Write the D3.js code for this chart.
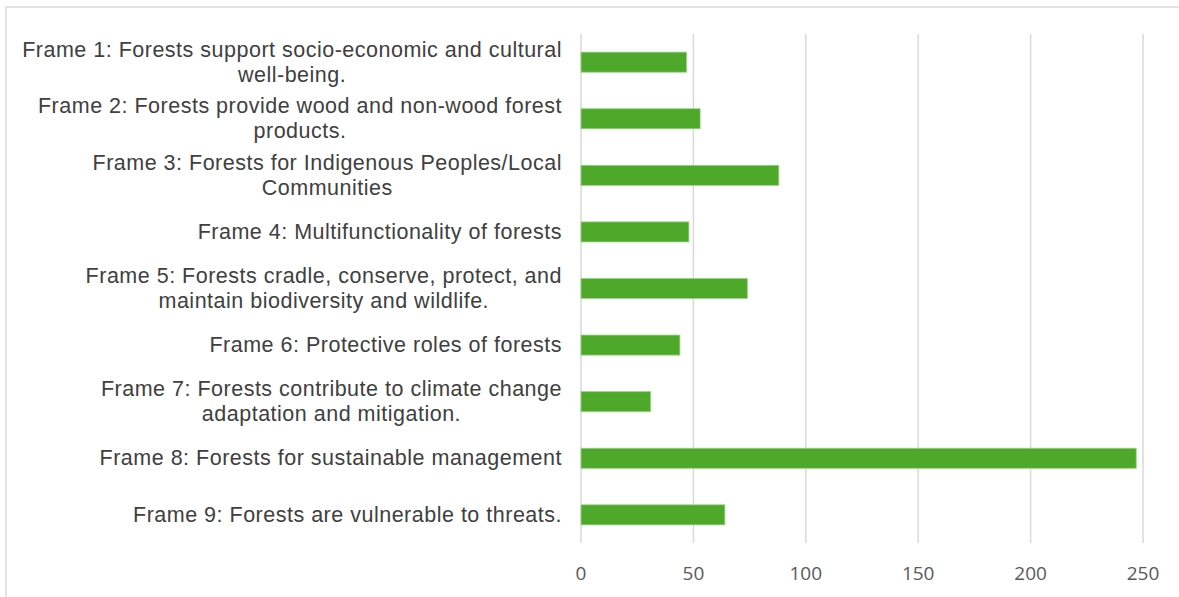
<!DOCTYPE html>
<html>
<head>
<meta charset="utf-8">
<script src="https://cdn.jsdelivr.net/npm/d3@7"></script>
<style>
  body { margin: 0; background: #fff; }
  svg { display: block; }
</style>
</head>
<body>
<div id="chart"></div>
<script>
const frames = [
  ['Frame 1: Forests support socio-economic and cultural', 'well-being.'],
  ['Frame 2: Forests provide wood and non-wood forest', 'products.'],
  ['Frame 3: Forests for Indigenous Peoples/Local', 'Communities'],
  ['Frame 4: Multifunctionality of forests'],
  ['Frame 5: Forests cradle, conserve, protect, and', 'maintain biodiversity and wildlife.'],
  ['Frame 6: Protective roles of forests'],
  ['Frame 7: Forests contribute to climate change', 'adaptation and mitigation.'],
  ['Frame 8: Forests for sustainable management'],
  ['Frame 9: Forests are vulnerable to threats.']
]
const counts = [47, 53, 88, 48, 74, 44, 31, 247, 64]
const xTicks = [0, 50, 100, 150, 200, 250]

const W = 1179, H = 597
const margin = { top: 34, right: 36, bottom: 54, left: 581 }

const svg = d3.select('#chart').append('svg')
  .attr('width', W)
  .attr('height', H)

// chart border
svg.append('rect')
  .attr('x', 6).attr('y', 7)
  .attr('width', W + 10).attr('height', H + 10)
  .attr('fill', 'none')
  .attr('stroke', '#d9d9d9')
  .attr('stroke-width', 1.5)

const x = d3.scaleLinear().domain([0, 250]).range([margin.left, W - margin.right])
const y = d3.scaleBand()
  .domain(d3.range(frames.length))
  .range([margin.top, H - margin.bottom])
  .paddingInner(0.645)
  .paddingOuter(0.32)

// gridlines
svg.append('g')
  .selectAll('line')
  .data(xTicks)
  .join('line')
  .attr('x1', d => x(d)).attr('x2', d => x(d))
  .attr('y1', margin.top).attr('y2', H - margin.bottom)
  .attr('stroke', '#d9d9d9')
  .attr('stroke-width', 1.5)

// tick labels
svg.append('g')
  .selectAll('text')
  .data(xTicks)
  .join('text')
  .attr('x', d => x(d))
  .attr('y', 580)
  .attr('text-anchor', 'middle')
  .attr('font-family', '"Open Sans", "Liberation Sans", sans-serif')
  .attr('font-size', '19px')
  .attr('fill', '#595959')
  .text(d => d)

// bars
svg.append('g')
  .selectAll('rect')
  .data(counts)
  .join('rect')
  .attr('x', x(0))
  .attr('y', (d, i) => y(i))
  .attr('width', d => x(d) - x(0))
  .attr('height', y.bandwidth())
  .attr('fill', '#4ea92b')
  .attr('stroke', '#9ed48a')
  .attr('stroke-width', 0.8)

// category labels, wrapped lines centred within a right-aligned block
const labelRight = 562
const lineH = 25
const labels = svg.append('g')
  .attr('font-family', '"Liberation Sans", Arial, sans-serif')
  .attr('font-size', '21.5px')
  .attr('letter-spacing', '0.5px')
  .attr('fill', '#404040')

frames.forEach((lines, i) => {
  const cy = y(i) + y.bandwidth() / 2
  const g = labels.append('g')
  const texts = lines.map((t, j) => g.append('text')
    .attr('y', cy + 7 + (j - (lines.length - 1) / 2) * lineH)
    .attr('text-anchor', 'middle')
    .text(t))
  const maxW = d3.max(texts, t => t.node().getComputedTextLength())
  texts.forEach(t => t.attr('x', labelRight - maxW / 2))
})
</script>
</body>
</html>
